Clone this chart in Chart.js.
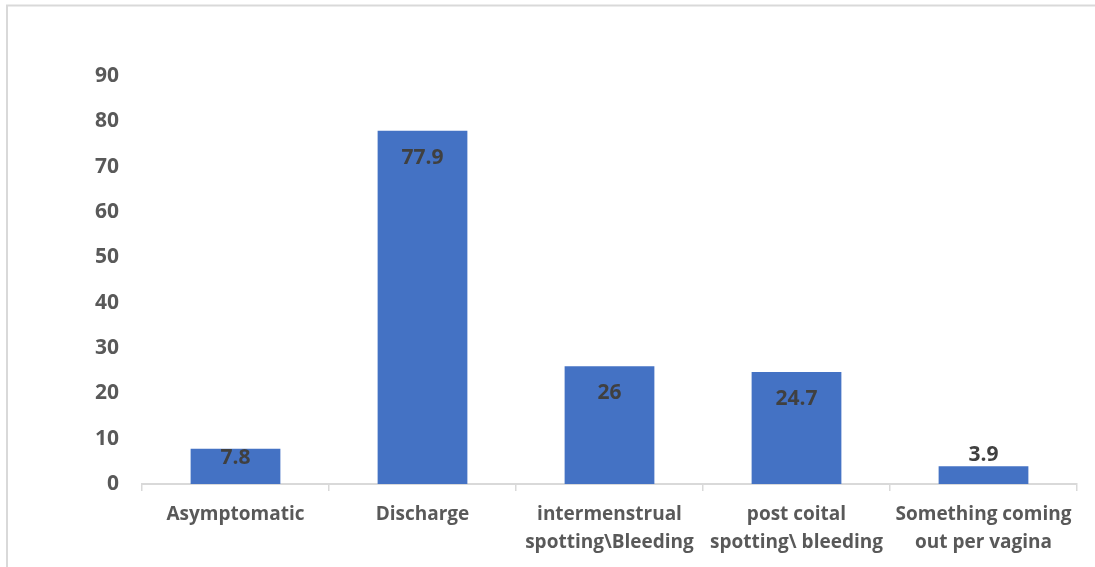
<!DOCTYPE html>
<html>
<head>
<meta charset="utf-8">
<script src="https://cdn.jsdelivr.net/npm/chart.js@4"></script>
<style>
  html, body { margin: 0; padding: 0; background: #ffffff; }
  #wrap { width: 1095px; height: 567px; position: relative; }
</style>
</head>
<body>
<div id="wrap"><canvas id="c" width="1095" height="567"></canvas></div>
<script>
// Symptom categories and percentages
const categories = [
  "Asymptomatic",
  "Discharge",
  ["intermenstrual", "spotting\\Bleeding"],
  ["post coital", "spotting\\ bleeding"],
  ["Something coming", "out per vagina"]
];
const percentages = [7.8, 77.9, 26, 24.7, 3.9];
const yTicks = [0, 10, 20, 30, 40, 50, 60, 70, 80, 90];

const FONT = "'Open Sans', 'Liberation Sans', sans-serif";

// Light frame around the chart area (top and left edges)
const framePlugin = {
  id: 'frame',
  beforeDraw(chart) {
    const ctx = chart.ctx;
    ctx.save();
    ctx.strokeStyle = '#d9d9d9';
    ctx.lineWidth = 2;
    ctx.beginPath();
    ctx.moveTo(7, 567);
    ctx.lineTo(7, 5.5);
    ctx.lineTo(1095, 5.5);
    ctx.stroke();
    ctx.restore();
  }
};

// Value labels: inside the top of tall bars, outside for very short ones
const valueLabels = {
  id: 'valueLabels',
  afterDatasetsDraw(chart) {
    const ctx = chart.ctx;
    const meta = chart.getDatasetMeta(0);
    const data = chart.data.datasets[0].data;
    ctx.save();
    ctx.font = 'bold 21px ' + FONT;
    ctx.fillStyle = '#404040';
    ctx.textAlign = 'center';
    ctx.textBaseline = 'middle';
    meta.data.forEach((bar, i) => {
      const h = bar.base - bar.y;
      let cy;
      if (h >= 50) cy = bar.y + 27;
      else if (h >= 20) cy = bar.y + 9;
      else cy = bar.y - 11;
      ctx.fillText(String(data[i]), bar.x, cy);
    });
    ctx.restore();
  }
};

new Chart(document.getElementById('c'), {
  type: 'bar',
  data: {
    labels: categories,
    datasets: [{
      data: percentages,
      backgroundColor: '#4472C4',
      borderWidth: 0,
      categoryPercentage: 1.0,
      barPercentage: 0.48
    }]
  },
  options: {
    responsive: false,
    animation: false,
    layout: { padding: { top: 76, right: 18, left: 0, bottom: 0 } },
    plugins: {
      legend: { display: false },
      tooltip: { enabled: false }
    },
    scales: {
      x: {
        grid: {
          display: true,
          drawOnChartArea: false,
          drawTicks: true,
          tickLength: 7,
          color: '#d9d9d9',
          lineWidth: 1.5,
          offset: true
        },
        border: { display: true, color: '#d9d9d9', width: 2 },
        ticks: {
          color: '#595959',
          font: { family: FONT, size: 19, weight: 'bold', lineHeight: 1.47 },
          padding: 10,
          maxRotation: 0,
          autoSkip: false
        },
        afterFit(scale) { scale.height = 567 - 484; }
      },
      y: {
        min: 0,
        max: 90,
        afterBuildTicks(scale) { scale.ticks = yTicks.map(v => ({ value: v })); },
        grid: { display: false, drawTicks: false },
        border: { display: false },
        ticks: {
          color: '#595959',
          font: { family: FONT, size: 21, weight: 'bold' },
          padding: 23
        },
        afterFit(scale) { scale.width = 142; }
      }
    }
  },
  plugins: [framePlugin, valueLabels]
});
</script>
</body>
</html>
